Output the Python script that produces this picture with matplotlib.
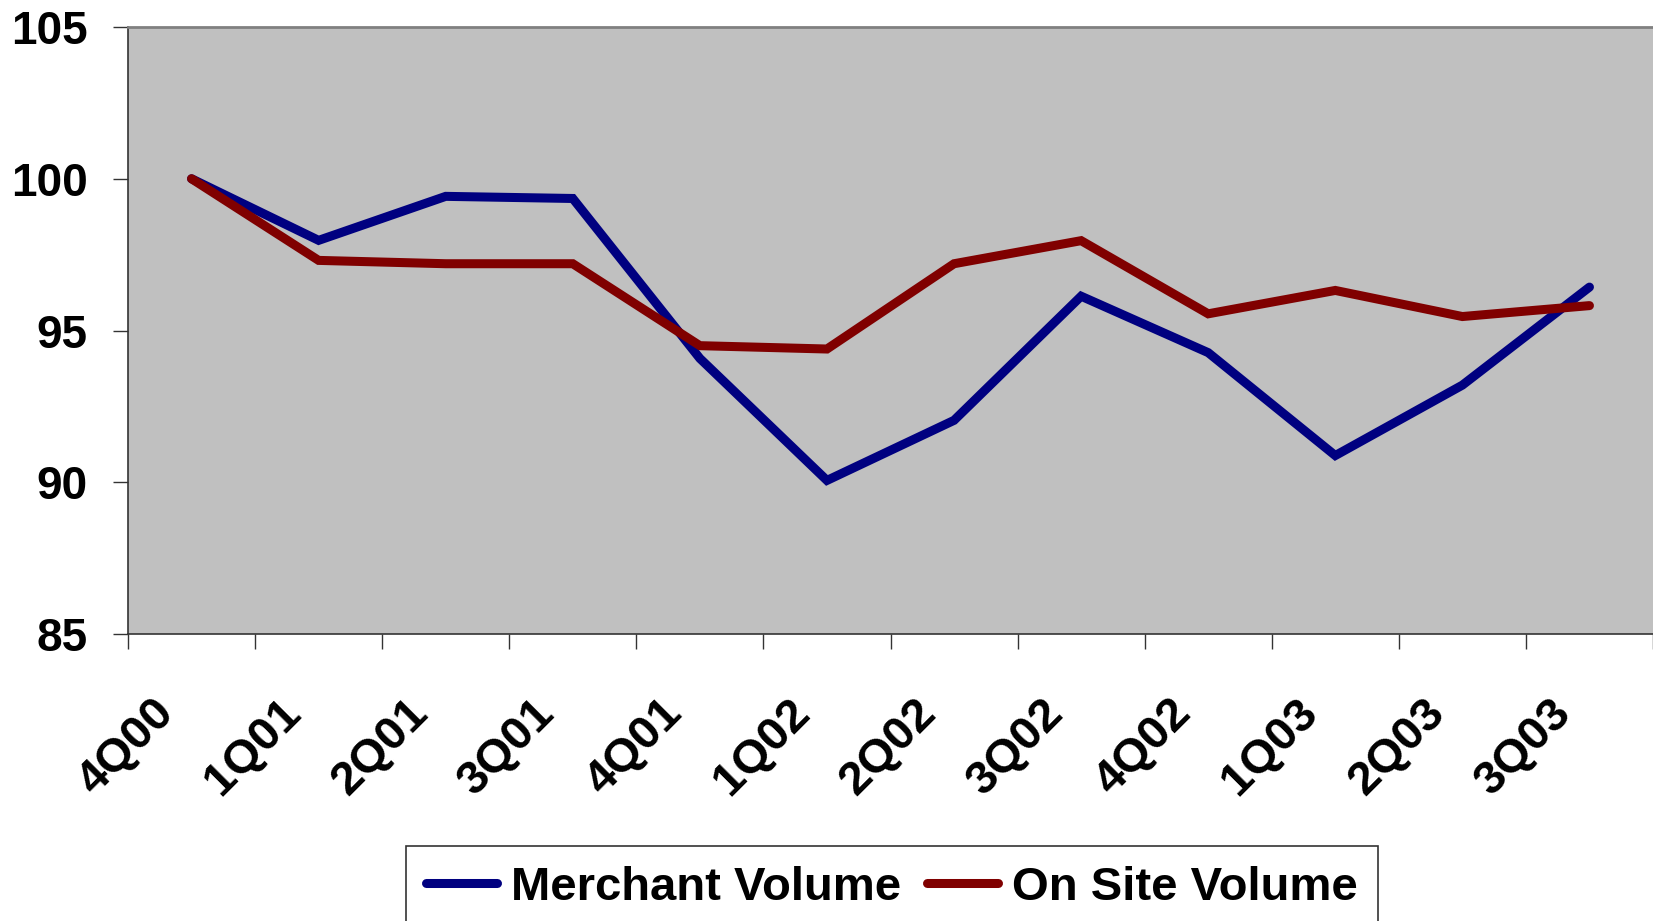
import matplotlib.pyplot as plt
import numpy as np

plt.rcParams['font.family'] = ['Liberation Sans', 'DejaVu Sans']

quarters = ['4Q00', '1Q01', '2Q01', '3Q01', '4Q01', '1Q02',
            '2Q02', '3Q02', '4Q02', '1Q03', '2Q03', '3Q03']
merchant = [100.0, 97.97, 99.42, 99.35, 94.08, 90.06,
            92.04, 96.13, 94.27, 90.88, 93.2, 96.43]
onsite = [100.0, 97.31, 97.2, 97.2, 94.5, 94.39,
          97.2, 97.96, 95.55, 96.32, 95.46, 95.82]

navy = '#000080'
maroon = '#800000'

fig = plt.figure(figsize=(16.53, 9.21), dpi=100)
ax = fig.add_axes([128/1653, 1 - 634/921, 1 - 128/1653, (634 - 27)/921])
ax.set_facecolor('#c0c0c0')

x = np.arange(len(quarters)) + 0.5
ax.plot(x, merchant, color=navy, lw=6.5, solid_capstyle='round',
        solid_joinstyle='miter', label='Merchant Volume')
ax.plot(x, onsite, color=maroon, lw=6.5, solid_capstyle='round',
        solid_joinstyle='miter', label='On Site Volume')

ax.set_xlim(0, len(quarters))
ax.set_ylim(85, 105)
ax.set_yticks([85, 90, 95, 100, 105])
ax.set_xticks(np.arange(len(quarters) + 1))
ax.set_xticklabels([])
# labels sit a little left of the category centre, like the original
ax.set_xticks(x - 0.07, minor=True)
ax.set_xticklabels(quarters, minor=True, rotation=45, ha='right', va='bottom',
                   rotation_mode='anchor', fontsize=34, fontweight='bold')
ax.tick_params(axis='x', which='minor', length=0, pad=63)
ax.tick_params(axis='x', which='major', length=11, width=1, color='#333333')
ax.tick_params(axis='y', length=11, width=1, pad=18, color='#333333')
for lab in ax.get_yticklabels():
    lab.set_fontsize(33)
    lab.set_fontweight('bold')

ax.spines['top'].set_color('#808080')
ax.spines['top'].set_linewidth(2)
ax.spines['right'].set_visible(False)
ax.spines['left'].set_color('#333333')
ax.spines['left'].set_linewidth(1.2)
ax.spines['bottom'].set_color('#333333')
ax.spines['bottom'].set_linewidth(1.2)

leg = fig.legend(loc='upper left', bbox_to_anchor=(406/1653, 1 - 846/921),
                 ncol=2, prop={'weight': 'bold', 'size': 34},
                 frameon=True, fancybox=False, edgecolor='black',
                 handlelength=1.5, handletextpad=0.3, columnspacing=0.55,
                 borderpad=0.42, borderaxespad=0)
leg.get_frame().set_linewidth(1.2)

fig.savefig('out.png', dpi=100)
